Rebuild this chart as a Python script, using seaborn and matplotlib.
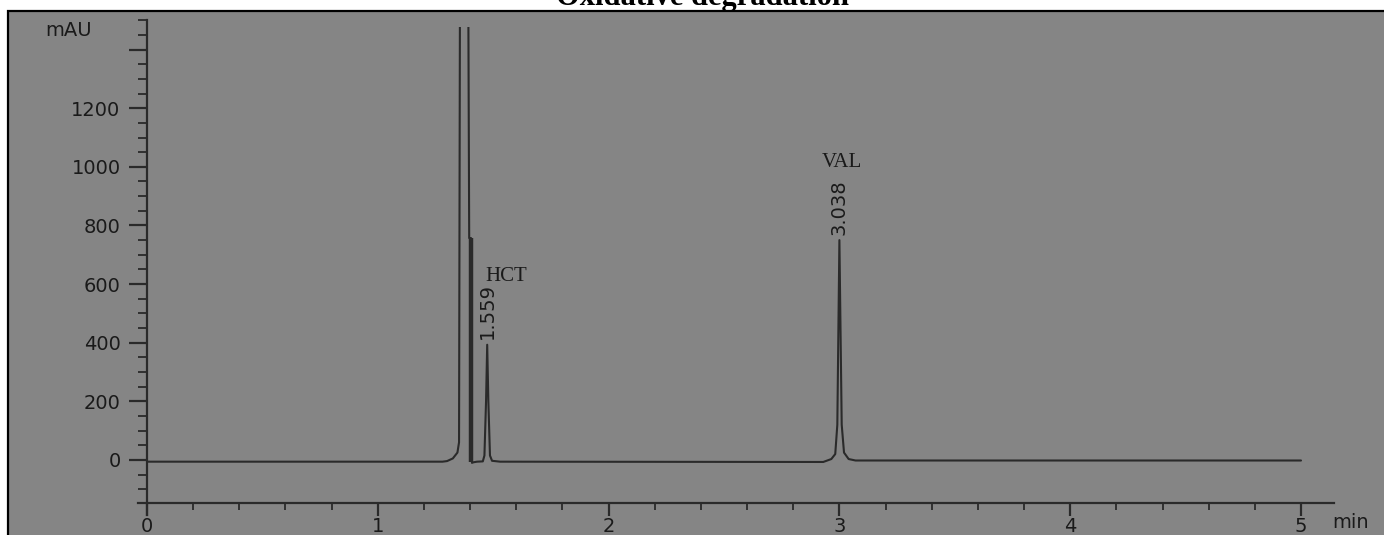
import matplotlib
matplotlib.use("Agg")
import matplotlib.pyplot as plt
import seaborn as sns
from matplotlib.patches import Rectangle
from matplotlib.ticker import MultipleLocator

# ---- data ----
trace_time = [0.00, 1.28, 1.30, 1.325, 1.345, 1.352, 1.356, 1.392, 1.396, 1.404, 1.408,
              1.415, 1.43, 1.455, 1.462, 1.469, 1.474, 1.479, 1.486, 1.495, 1.53,
              2.93, 2.965, 2.982, 2.991, 3.000, 3.010, 3.020, 3.04, 3.07, 5.00]
trace_mau = [-6, -6, -4, 5, 25, 60, 1600, 1600, 757, 757, -10,
             -8, -6, -5, 15, 200, 393, 200, 15, -3, -6,
             -7, 3, 20, 120, 750, 120, 25, 3, -2, -2]
shoulder_time = [1.405]
shoulder_mau = [757]
peak_names = ["HCT", "VAL"]
peak_rt_labels = ["1.559", "3.038"]
peak_label_time = [1.474, 3.000]
peak_label_mau = [393, 750]
title = "Oxidative degradation"
y_unit = "mAU"
x_unit = "min"

W, H = 1384, 535
GRAY = "#858585"
INK = "#2a2a2a"

sns.set_style("white")
plt.rcParams["font.family"] = ["DejaVu Sans"]

fig = plt.figure(figsize=(W / 100, H / 100), dpi=100)
fig.patch.set_facecolor("white")

# gray panel with black border
fig.patches.append(Rectangle((8 / W, -0.02), 1.05, (H - 11) / H + 0.02,
                             transform=fig.transFigure, facecolor=GRAY,
                             edgecolor="black", linewidth=1.6, zorder=-5))
fig.text(702 / W, 1 - 5 / H, title, ha="center", va="baseline",
         fontsize=22, fontweight="bold", family="Liberation Serif", color="black")

ax = fig.add_axes([147 / W, 32 / H, (1334 - 147) / W, (503 - 20) / H])
ax.set_zorder(1)
ax.set_facecolor(GRAY)
ax.set_xlim(0, (1334 - 147) / 230.8)
ax.set_ylim(-147, 1501)

sns.lineplot(x=trace_time, y=trace_mau, estimator=None, sort=False, ax=ax,
             color=INK, linewidth=1.5)
ax.vlines(shoulder_time, -6, shoulder_mau, color=INK, linewidth=3.2)
clip = Rectangle((-1, -300), 10, 300 + 1476, transform=ax.transData)
for ln in ax.lines:
    ln.set_clip_path(clip)

# peak labels
for name, rt, t, v in zip(peak_names, peak_rt_labels, peak_label_time, peak_label_mau):
    ax.annotate(rt, (t, v), xytext=(0, 4), textcoords="offset points",
                rotation=90, ha="center", va="bottom", fontsize=14, color="#1a1a1a")
ax.annotate(peak_names[0], (peak_label_time[0], peak_label_mau[0]), xytext=(14, 49),
            textcoords="offset points", ha="center", va="center",
            fontsize=15, family="Liberation Serif", color="#1a1a1a")
ax.annotate(peak_names[1], (peak_label_time[1], peak_label_mau[1]), xytext=(2, 56),
            textcoords="offset points", ha="center", va="center",
            fontsize=15, family="Liberation Serif", color="#1a1a1a")

# axes styling
for s in ["top", "right"]:
    ax.spines[s].set_visible(False)
for s in ["left", "bottom"]:
    ax.spines[s].set_color(INK)
    ax.spines[s].set_linewidth(1.6)
ax.spines["left"].set_bounds(-188, 1501)
ax.spines["bottom"].set_bounds(-0.04, (1334 - 147) / 230.8)

ax.yaxis.set_major_locator(MultipleLocator(200))
ax.yaxis.set_minor_locator(MultipleLocator(50))
ax.xaxis.set_major_locator(MultipleLocator(1))
ax.xaxis.set_minor_locator(MultipleLocator(0.2))
ax.set_yticks([0, 200, 400, 600, 800, 1000, 1200, 1400])
ax.set_yticklabels(["0", "200", "400", "600", "800", "1000", "1200", ""])
ax.set_xticks([0, 1, 2, 3, 4, 5])
ax.set_xticklabels(["0", "1", "2", "3", "4", "5"])
ax.tick_params(axis="both", which="both", left=True, bottom=True, top=False, right=False)
ax.tick_params(axis="y", which="major", length=13, width=1.6, color=INK,
               labelsize=14, labelcolor="#1a1a1a", pad=6, direction="out")
ax.tick_params(axis="y", which="minor", length=6.5, width=1.3, color=INK, direction="out")
ax.tick_params(axis="x", which="major", length=9, width=1.6, color=INK,
               labelsize=14, labelcolor="#1a1a1a", pad=1, direction="out")
ax.tick_params(axis="x", which="minor", length=5, width=1.3, color=INK, direction="out")
ax.set_xlabel("")
ax.set_ylabel("")

fig.text(69 / W, 1 - 31 / H, y_unit, ha="center", va="center", fontsize=14, color="#1a1a1a")
fig.text(1351 / W, 1 - 522 / H, x_unit, ha="center", va="center", fontsize=14, color="#1a1a1a")

fig.savefig("out.png", dpi=100, facecolor=fig.get_facecolor())
